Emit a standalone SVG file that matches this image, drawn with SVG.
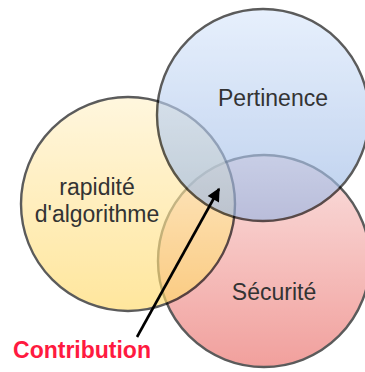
<svg xmlns="http://www.w3.org/2000/svg" width="365" height="372" viewBox="0 0 365 372">
  <defs>
    <linearGradient id="gYellow" x1="0" y1="0" x2="0" y2="1">
      <stop offset="0" stop-color="#fff2cc"/>
      <stop offset="1" stop-color="#ffd966"/>
    </linearGradient>
    <linearGradient id="gBlue" x1="0" y1="0" x2="0" y2="1">
      <stop offset="0" stop-color="#dae8fc"/>
      <stop offset="1" stop-color="#98b6e4"/>
    </linearGradient>
    <linearGradient id="gRed" x1="0" y1="0" x2="0" y2="1">
      <stop offset="0" stop-color="#f8cecc"/>
      <stop offset="1" stop-color="#ea6b66"/>
    </linearGradient>
    <marker id="arrowHead" viewBox="0 0 10 10" refX="9" refY="5" markerWidth="6" markerHeight="5" markerUnits="strokeWidth" orient="auto">
      <path d="M0,0 L10,5 L0,10 z" fill="#000"/>
    </marker>
    <style>
      .set { opacity: 0.64; stroke: #000; stroke-width: 2.4; }
      .label { font-family: "Liberation Sans", Arial, sans-serif; font-size: 23px; fill: #333333; text-anchor: middle; }
      .note { font-family: "Liberation Sans", Arial, sans-serif; font-size: 23px; font-weight: bold; fill: #ff1a40; text-anchor: middle; }
    </style>
  </defs>

  <!-- drawn back to front: red, yellow, blue -->
  <g id="node-securite">
    <circle class="set" cx="264" cy="261" r="106" fill="url(#gRed)"/>
  </g>
  <g id="node-rapidite">
    <circle class="set" cx="128" cy="204" r="107" fill="url(#gYellow)"/>
  </g>
  <g id="node-pertinence">
    <circle class="set" cx="263" cy="115" r="106" fill="url(#gBlue)"/>
  </g>

  <g id="labels">
    <text class="label" x="273" y="106">Pertinence</text>
    <text class="label" x="97" y="195">rapidité</text>
    <text class="label" x="97" y="222">d'algorithme</text>
    <text class="label" x="274" y="300">Sécurité</text>
  </g>

  <g id="connectors">
    <line x1="137" y1="337" x2="219" y2="189" stroke="#000" stroke-width="2.6" marker-end="url(#arrowHead)"/>
  </g>

  <g id="node-contribution">
    <text class="note" x="82" y="358">Contribution</text>
  </g>
</svg>
